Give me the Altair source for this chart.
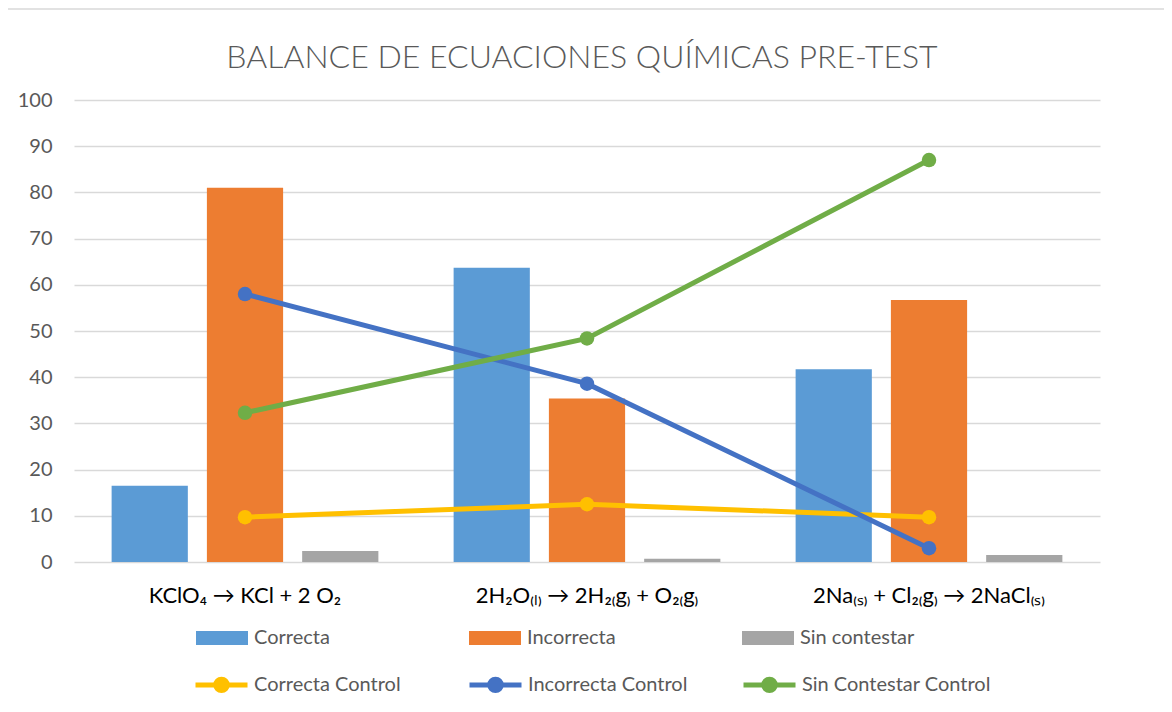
import altair as alt
import pandas as pd

categories = ["KClO₄ →  KCl + 2 O₂", "2H₂O₍ₗ₎ →   2H₂₍g₎ + O₂₍g₎", "2Na₍ₛ₎ + Cl₂₍g₎ → 2NaCl₍ₛ₎"]
bar_series = ["Correcta", "Incorrecta", "Sin contestar"]
bar_colors = ["#5B9BD5", "#ED7D31", "#A5A5A5"]
correcta = [16.5, 63.7, 41.7]
incorrecta = [81.0, 35.4, 56.7]
sin_contestar = [2.4, 0.7, 1.5]

line_series = ["Correcta Control", "Incorrecta Control", "Sin Contestar Control"]
line_colors = ["#FFC000", "#4472C4", "#70AD47"]
correcta_control = [9.7, 12.5, 9.7]
incorrecta_control = [58.0, 38.6, 3.0]
sin_contestar_control = [32.3, 48.4, 87.0]

y_ticks = [0, 10, 20, 30, 40, 50, 60, 70, 80, 90, 100]

FONT = "Lato"
GRAY = "#595959"

bars_df = pd.DataFrame(
    [
        {"cat": c, "serie": s, "valor": v}
        for s, vals in zip(bar_series, [correcta, incorrecta, sin_contestar])
        for c, v in zip(categories, vals)
    ]
)
lines_df = pd.DataFrame(
    [
        {"cat": c, "serie": s, "valor": v}
        for s, vals in zip(line_series, [correcta_control, incorrecta_control, sin_contestar_control])
        for c, v in zip(categories, vals)
    ]
)

x_enc = alt.X(
    "cat:N",
    sort=categories,
    title=None,
    scale=alt.Scale(paddingInner=0.22, paddingOuter=0.11),
    axis=alt.Axis(
        labelAngle=0,
        labelFont=FONT,
        labelFontSize=22,
        labelColor="#000000",
        labelPadding=23,
        ticks=False,
        domain=False,
        grid=False,
        labelLimit=400,
    ),
)
y_enc = alt.Y(
    "valor:Q",
    title=None,
    scale=alt.Scale(domain=[0, 100], nice=False),
    axis=alt.Axis(
        values=y_ticks,
        labelFont=FONT,
        labelFontSize=20,
        labelColor=GRAY,
        labelPadding=22,
        ticks=False,
        domain=False,
        gridColor="#D9D9D9",
        gridWidth=1.5,
    ),
)

bar_symbol = "M-1,-0.27H1V0.27H-1Z"
# stroked path: a horizontal line plus concentric rings that read as a filled dot
line_symbol = (
    "M-1,0H1 "
    "M-0.06,0A0.06,0.06 0 1,0 0.06,0A0.06,0.06 0 1,0 -0.06,0 "
    "M-0.15,0A0.15,0.15 0 1,0 0.15,0A0.15,0.15 0 1,0 -0.15,0 "
    "M-0.22,0A0.22,0.22 0 1,0 0.22,0A0.22,0.22 0 1,0 -0.22,0"
)

bars = (
    alt.Chart(bars_df)
    .mark_bar()
    .encode(
        x=x_enc,
        y=y_enc,
        xOffset=alt.XOffset(
            "serie:N",
            sort=bar_series,
            scale=alt.Scale(paddingInner=0.2, paddingOuter=0),
        ),
        color=alt.Color(
            "serie:N",
            sort=bar_series,
            scale=alt.Scale(domain=bar_series, range=bar_colors),
            legend=alt.Legend(
                title=None,
                orient="none",
                direction="horizontal",
                legendX=122,
                legendY=512,
                symbolType=bar_symbol,
                symbolSize=2704,
                symbolStrokeWidth=0,
                labelFont=FONT,
                labelFontSize=20,
                labelColor=GRAY,
                labelOffset=6,
                labelLimit=300,
                columns=3,
                gridAlign="all",
                columnPadding=100,
                symbolOpacity=1,
            ),
        ),
    )
)

line_color = alt.Color(
    "serie:N",
    sort=line_series,
    scale=alt.Scale(domain=line_series, range=line_colors),
    legend=alt.Legend(
        title=None,
        orient="none",
        direction="horizontal",
        legendX=119,
        legendY=556,
        symbolType=line_symbol,
        symbolSize=2704,
        symbolStrokeWidth=5,
        labelFont=FONT,
        labelFontSize=20,
        labelColor=GRAY,
        labelOffset=4,
        labelLimit=300,
        columns=3,
        gridAlign="all",
        columnPadding=16,
        symbolOpacity=1,
    ),
)

lines = (
    alt.Chart(lines_df)
    .mark_line(strokeWidth=5)
    .encode(x=x_enc, y=y_enc, color=line_color)
)

points = (
    alt.Chart(lines_df)
    .mark_point(filled=True, size=210, opacity=1)
    .encode(x=x_enc, y=y_enc, color=line_color)
)

controls = alt.layer(lines, points)

frame = (
    alt.Chart(pd.DataFrame({"k": [0]}))
    .mark_rect(fill="transparent", stroke="#D9D9D9", strokeWidth=1.5, clip=False)
    .encode(
        x=alt.value(-67),
        x2=alt.value(1200),
        y=alt.value(-91),
        y2=alt.value(800),
    )
)

chart = (
    alt.layer(frame, bars, controls)
    .resolve_scale(color="independent")
    .properties(
        width=1026,
        height=462,
        background="white",
        padding={"left": 66, "top": 92, "right": 64, "bottom": 140},
        autosize=alt.AutoSizeParams(type="none"),
        title=alt.TitleParams(
            "BALANCE DE ECUACIONES QUÍMICAS PRE-TEST",
            font=FONT,
            fontSize=32,
            fontWeight=300,
            color=GRAY,
            anchor="middle",
            frame="group",
            offset=0,
            dy=67,
            dx=-5,
        ),
    )
    .configure_view(strokeWidth=0, stroke="transparent")
)

chart.save("out.html", embed_options={"renderer": "svg", "actions": False})
